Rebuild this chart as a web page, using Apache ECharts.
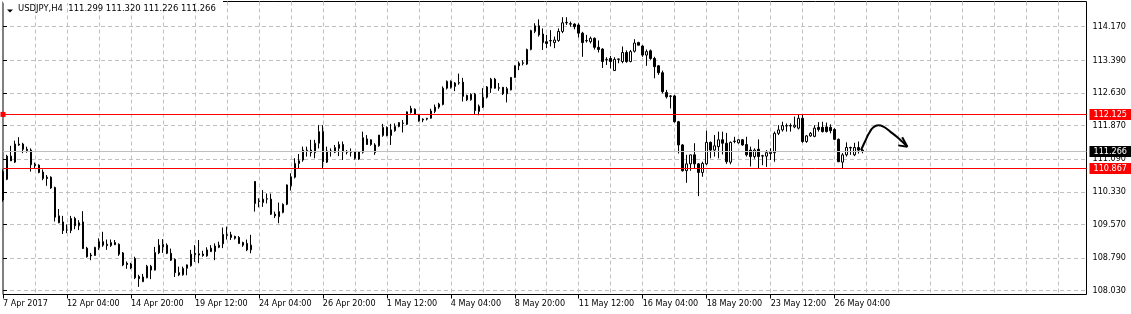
<!DOCTYPE html>
<html><head><meta charset="utf-8">
<script src="https://cdn.jsdelivr.net/npm/echarts@6/dist/echarts.min.js"></script>
<style>html,body{margin:0;padding:0;background:#fff}#c{width:1131px;height:314px}</style>
</head><body><div id="c"></div><script>
const symbolName = 'USDJPY,H4';
const lastQuote = [111.299, 111.320, 111.226, 111.266];
const firstBar = [2017, 3, 7, 12];   // 7 Apr 2017 12:00
const barHours = 4;
const futureSlots = 56;
const labelEvery = 16;
const gridEvery = 8;
const MONTHS = ['Jan','Feb','Mar','Apr','May','Jun','Jul','Aug','Sep','Oct','Nov','Dec'];
// [open, high, low, close]
const ohlc = [
[110.80,110.85,110.10,110.14],[110.62,111.19,110.60,111.16],[111.16,111.40,111.05,111.05],[111.02,111.52,111.00,111.44],
[111.44,111.60,111.40,111.42],[111.44,111.47,111.23,111.32],[111.32,111.38,111.24,111.29],[111.30,111.34,110.80,110.96],
[110.97,111.01,110.88,110.94],[110.95,110.97,110.76,110.78],[110.79,110.85,110.60,110.64],[110.67,110.72,110.47,110.64],
[110.67,110.69,110.40,110.42],[110.43,110.45,109.64,109.74],[109.77,109.93,109.60,109.61],[109.63,109.77,109.35,109.43],
[109.44,109.57,109.37,109.44],[109.43,109.77,109.37,109.71],[109.71,109.75,109.46,109.54],[109.54,109.67,109.44,109.61],
[109.63,109.88,109.00,109.01],[109.02,109.05,108.80,108.82],[108.86,108.91,108.74,108.84],[108.85,109.05,108.84,109.04],
[109.03,109.25,108.98,109.17],[109.17,109.40,109.05,109.09],[109.11,109.22,108.98,109.08],[109.08,109.22,109.05,109.15],
[109.15,109.21,109.10,109.10],[109.11,109.13,108.84,108.88],[108.91,108.93,108.60,108.63],[108.67,108.71,108.54,108.64],
[108.65,108.68,108.53,108.56],[108.78,108.82,108.30,108.33],[108.36,108.40,108.12,108.31],[108.24,108.42,108.23,108.35],
[108.33,108.63,108.32,108.60],[108.51,108.63,108.30,108.60],[108.51,109.05,108.50,108.92],[108.91,109.23,108.88,109.09],
[109.05,109.23,108.91,109.11],[109.09,109.13,108.88,108.90],[108.90,109.01,108.72,108.74],[108.76,108.78,108.35,108.45],
[108.45,108.59,108.37,108.40],[108.40,108.59,108.38,108.55],[108.55,108.64,108.39,108.63],[108.61,108.98,108.59,108.88],
[108.90,109.09,108.70,108.87],[108.86,109.21,108.67,108.89],[108.88,108.96,108.82,108.85],[108.84,109.04,108.82,108.98],
[108.94,109.09,108.93,109.02],[108.94,109.13,108.74,109.07],[109.04,109.17,109.02,109.09],[109.12,109.50,109.02,109.34],
[109.33,109.52,109.22,109.32],[109.33,109.40,109.21,109.27],[109.29,109.31,109.22,109.25],[109.27,109.30,109.12,109.13],
[109.15,109.17,109.05,109.09],[109.13,109.22,108.95,108.98],[108.98,109.33,108.90,109.09],[110.57,110.58,109.87,110.06],
[110.10,110.18,109.97,110.12],[110.08,110.37,109.98,110.16],[110.16,110.29,110.06,110.17],[110.16,110.29,109.79,109.81],
[109.81,109.87,109.72,109.77],[109.75,110.08,109.60,109.87],[109.85,110.06,109.83,110.04],[110.04,110.50,110.02,110.49],
[110.47,110.76,110.36,110.68],[110.67,111.11,110.64,110.99],[110.99,111.21,110.88,111.05],[111.07,111.38,111.03,111.30],
[111.29,111.38,111.15,111.30],[111.30,111.54,111.15,111.24],[111.24,111.54,111.11,111.46],[111.46,111.88,111.34,111.73],
[111.73,111.88,110.88,111.03],[111.02,111.38,111.00,111.28],[111.28,111.34,111.15,111.27],[111.25,111.42,111.23,111.36],
[111.34,111.50,111.16,111.43],[111.43,111.50,111.07,111.26],[111.27,111.30,111.20,111.25],[111.27,111.34,111.15,111.25],
[111.26,111.28,111.08,111.11],[111.09,111.27,111.07,111.26],[111.25,111.73,111.22,111.59],[111.56,111.65,111.42,111.43],
[111.43,111.55,111.40,111.54],[111.24,111.46,111.19,111.42],[111.40,111.65,111.38,111.65],[111.64,111.91,111.61,111.83],
[111.83,111.85,111.62,111.64],[111.64,111.91,111.42,111.77],[111.75,111.92,111.73,111.85],[111.85,111.95,111.83,111.94],
[111.92,112.00,111.71,111.93],[111.90,112.20,111.88,112.19],[112.17,112.33,112.15,112.27],[112.25,112.27,112.12,112.13],
[112.13,112.14,111.96,111.98],[112.00,112.04,111.95,112.02],[112.02,112.05,111.99,112.04],[112.04,112.26,112.03,112.21],
[112.20,112.36,112.16,112.30],[112.30,112.40,112.26,112.37],[112.36,112.78,112.34,112.74],[112.74,112.92,112.71,112.90],
[112.90,112.92,112.73,112.76],[112.78,112.88,112.67,112.86],[112.86,113.08,112.82,112.87],[112.88,112.98,112.43,112.55],
[112.57,112.59,112.44,112.47],[112.47,112.62,112.45,112.60],[112.60,112.63,112.14,112.22],[112.20,112.36,112.11,112.32],
[112.30,112.74,112.28,112.53],[112.53,112.79,112.50,112.77],[112.74,112.98,112.63,112.95],[112.95,112.98,112.73,112.74],
[112.74,112.86,112.68,112.75],[112.76,112.77,112.58,112.61],[112.61,112.77,112.41,112.73],[112.70,113.00,112.69,112.99],
[112.99,113.27,112.98,113.26],[113.26,113.36,113.16,113.32],[113.32,113.39,113.27,113.33],[113.30,113.66,113.28,113.64],
[113.64,114.10,113.62,114.08],[114.06,114.25,114.02,114.19],[114.19,114.34,113.94,113.98],[114.00,114.13,113.63,113.80],
[113.82,113.98,113.67,113.78],[113.84,114.09,113.71,113.85],[113.80,113.94,113.67,113.86],[113.85,114.13,113.82,114.06],
[114.06,114.39,114.02,114.26],[114.26,114.39,114.21,114.27],[114.24,114.29,114.17,114.23],[114.23,114.25,114.11,114.17],
[114.21,114.25,113.92,114.02],[114.02,114.05,113.47,113.80],[113.84,113.98,113.80,113.85],[113.82,113.94,113.78,113.90],
[113.90,113.92,113.64,113.69],[113.69,113.85,113.57,113.64],[113.65,113.67,113.21,113.36],[113.40,113.46,113.28,113.41],
[113.43,113.49,113.20,113.36],[113.15,113.46,113.14,113.41],[113.41,113.43,113.32,113.42],[113.36,113.71,113.32,113.57],
[113.57,113.62,113.33,113.36],[113.36,113.63,113.34,113.59],[113.60,113.88,113.57,113.79],[113.80,113.82,113.74,113.74],
[113.72,113.74,113.47,113.51],[113.51,113.64,113.26,113.59],[113.61,113.64,113.40,113.43],[113.43,113.47,112.97,113.24],
[113.26,113.28,113.05,113.10],[113.10,113.15,112.62,112.66],[112.64,112.70,112.50,112.54],[112.56,112.58,112.27,112.55],
[112.56,112.58,111.94,111.96],[111.96,111.98,111.22,111.42],[111.42,111.44,110.80,110.82],[110.82,111.19,110.54,110.98],
[110.98,111.19,110.82,111.19],[111.19,111.46,110.88,110.98],[110.98,111.00,110.23,110.78],[110.78,111.03,110.68,110.99],
[110.98,111.75,110.95,111.48],[111.48,111.50,111.11,111.30],[111.30,111.65,111.15,111.40],[111.38,111.73,111.11,111.54],
[111.54,111.73,111.20,111.46],[111.46,111.70,110.98,111.03],[111.02,111.50,110.97,111.48],[111.50,111.61,111.46,111.51],
[111.47,111.56,111.45,111.54],[111.54,111.56,111.40,111.42],[111.43,111.61,111.15,111.19],[111.30,111.38,110.92,111.15],
[111.15,111.34,111.10,111.30],[111.32,111.55,110.88,111.15],[111.16,111.19,110.95,111.17],[111.16,111.30,110.91,111.24],
[111.22,111.34,111.07,111.25],[111.24,111.73,111.03,111.69],[111.69,111.88,111.65,111.77],[111.77,111.96,111.73,111.87],
[111.86,111.92,111.73,111.87],[111.87,111.92,111.73,111.86],[111.84,112.08,111.81,111.88],[111.81,112.12,111.78,112.04],
[112.04,112.12,111.47,111.50],[111.50,111.65,111.47,111.63],[111.63,111.72,111.61,111.69],[111.62,111.88,111.60,111.81],
[111.83,111.95,111.73,111.78],[111.83,111.96,111.71,111.73],[111.84,111.94,111.71,111.73],[111.83,111.90,111.69,111.75],
[111.78,111.81,111.53,111.55],[111.55,111.57,111.02,111.03],[111.02,111.23,110.88,111.19],[111.19,111.48,111.15,111.36],
[111.36,111.38,111.19,111.35],[111.19,111.47,111.16,111.36],[111.36,111.50,111.22,111.30],[111.299,111.320,111.226,111.266]
];
const priceTicks = [114.170, 113.390, 112.630, 111.870, 111.090, 110.330, 109.570, 108.790, 108.030];
const priceRange = [107.942, 114.756];
const levelLines = [112.125, 110.867];
const bidPrice = 111.266;
// hand-drawn arrow, in [bar index, price]
const arrowPath = [[214.6,111.30],[215.6,111.50],[216.6,111.69],[217.7,111.83],[218.95,111.88],[220.2,111.845],[221.9,111.73],[223.55,111.61],[225.2,111.47],[226.2,111.38]];
const arrowBarbs = [[[224.9,111.60],[226.2,111.38]], [[223.9,111.41],[226.2,111.38]]];

// ---- font: pick a narrow face if installed, size it to MT4-like widths ----
function pickFont() {
  const ctx = document.createElement('canvas').getContext('2d');
  const sample = '12 Apr 04:00';
  const title = 'USDJPY,H4  111.299 111.320 111.226 111.266';
  ctx.font = '20px monospace';
  const mono = ctx.measureText(sample).width;
  const cands = ["'Liberation Sans Narrow'", "'DejaVu Sans Condensed'", "'Liberation Sans'"];
  for (const f of cands) {
    ctx.font = '20px ' + f + ', monospace';
    const w = ctx.measureText(sample).width;
    if (Math.abs(w - mono) > 0.5) {
      const wt = ctx.measureText(title).width;
      const size = Math.min(11.5, Math.round(20 * 53 / w * 10) / 10);
      const tsize = Math.min(12, Math.round(20 * 198 / wt * 10) / 10);
      return {family: f + ', sans-serif', size: size, tsize: tsize};
    }
  }
  return {family: 'sans-serif', size: 9.5, tsize: 9.5};
}
const F = pickFont();

// ---- build categories (H4 bars, weekends skipped) ----
const nBars = ohlc.length;
const nSlots = nBars + futureSlots;
const times = [];
let t = Date.UTC(firstBar[0], firstBar[1], firstBar[2], firstBar[3]);
while (times.length < nSlots) {
  const wd = new Date(t).getUTCDay();
  if (wd !== 0 && wd !== 6) times.push(t);
  t += barHours * 3600e3;
}
function fmtBar(i) {
  const d = new Date(times[i]);
  const s = d.getUTCDate() + ' ' + MONTHS[d.getUTCMonth()];
  if (i === 0) return s + ' ' + d.getUTCFullYear();
  return s + ' ' + String(d.getUTCHours()).padStart(2, '0') + ':00';
}
const categories = times.map((_, i) => fmtBar(i));
const candleData = ohlc.map(r => [r[0], r[3], r[2], r[1]]);
const labelAt = (i) => i % labelEvery === 0 && i < nBars;

const chart = echarts.init(document.getElementById('c'), null, {renderer: 'canvas'});
const squareRing = 'path://M0,0H10V10H0ZM2,2V8H8V2Z';
const tagLabel = (v, bg) => ({backgroundColor: bg, formatter: v.toFixed(3)});
chart.setOption({
  animation: false,
  backgroundColor: '#fff',
  textStyle: {fontFamily: F.family},
  grid: {left: 2.5, right: 44.5, top: 1.5, bottom: 19.5, show: true, borderColor: '#000', borderWidth: 1, backgroundColor: '#fff'},
  xAxis: [{
    type: 'category', data: categories, boundaryGap: false,
    axisLine: {show: false},
    axisTick: {show: true, interval: (i) => labelAt(i), length: 4, lineStyle: {color: '#000'}},
    axisLabel: {interval: (i) => labelAt(i), hideOverlap: false, align: 'left', margin: 5,
      color: '#000', fontSize: F.size, fontFamily: F.family},
    splitLine: {show: true, interval: (i) => i % gridEvery === 0 && i > 0, lineStyle: {color: '#c0c0c0', type: [4, 3], width: 1}}
  }, {
    type: 'value', min: 0, max: nSlots - 1, show: false
  }],
  yAxis: {
    type: 'value', position: 'right', min: priceRange[0], max: priceRange[1], scale: true,
    axisLine: {show: false},
    axisTick: {show: true, customValues: priceTicks, length: 4, lineStyle: {color: '#000'}},
    axisLabel: {customValues: priceTicks, formatter: (v) => v.toFixed(3), margin: 6, color: '#000', fontSize: F.size, fontFamily: F.family},
    splitLine: {show: true, lineStyle: {color: '#c0c0c0', type: [4, 3], width: 1}}
  },
  series: [{
    type: 'candlestick', xAxisIndex: 0, data: candleData, barWidth: 2,
    itemStyle: {color: '#fff', color0: '#000', borderColor: '#000', borderColor0: '#000', borderWidth: 1}
  }, {
    type: 'line', xAxisIndex: 0, data: [], z: 4, silent: true,
    markLine: {
      silent: true, animation: false,
      symbol: 'none',
      lineStyle: {type: 'solid', width: 1},
      label: {position: 'end', distance: 3, color: '#fff', fontSize: F.size, fontFamily: F.family,
        padding: [1, 8, 0, 4], lineHeight: 10},
      data: [
        {yAxis: bidPrice, lineStyle: {color: '#c0c0c0'}, label: tagLabel(bidPrice, '#000')},
        {yAxis: levelLines[1], lineStyle: {color: '#ff0000'}, label: tagLabel(levelLines[1], '#ff0000')},
        {yAxis: levelLines[0], symbol: [squareRing, squareRing], symbolSize: 5,
          lineStyle: {color: '#ff0000'}, label: tagLabel(levelLines[0], '#ff0000')}
      ]
    }
  }, {
    type: 'line', xAxisIndex: 1, data: arrowPath, smooth: 0.5, symbol: 'none', silent: true, z: 5,
    lineStyle: {color: '#000', width: 2}
  }].concat(arrowBarbs.map(seg => ({
    type: 'line', xAxisIndex: 1, data: seg, symbol: 'none', silent: true, z: 5,
    lineStyle: {color: '#000', width: 2}
  }))),
  graphic: [
    {type: 'rect', left: 3, top: 0, shape: {width: 220, height: 3}, style: {fill: '#fff'}, z: 100},
    {type: 'polygon', shape: {points: [[7, 9.5], [13, 9.5], [10, 12.5]]}, style: {fill: '#000'}, z: 100},
    {type: 'text', left: 18, top: 4, z: 100,
      style: {text: symbolName + '  ' + lastQuote.map(v => v.toFixed(3)).join(' '), fill: '#000', font: F.tsize + 'px ' + F.family}}
  ]
});
</script></body></html>
